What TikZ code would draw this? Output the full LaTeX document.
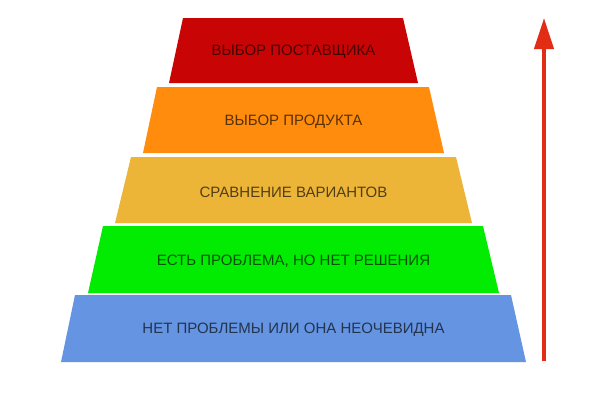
\documentclass[tikz,border=0pt]{standalone}
\usepackage{fontspec}
\setmainfont{Liberation Sans}
\usetikzlibrary{arrows.meta}
\definecolor{layerred}{RGB}{200,4,4}
\definecolor{layerorange}{RGB}{255,140,12}
\definecolor{layeryellow}{RGB}{236,181,56}
\definecolor{layergreen}{RGB}{2,236,2}
\definecolor{layerblue}{RGB}{100,148,226}
\definecolor{arrowred}{RGB}{226,44,20}
\begin{document}
\begin{tikzpicture}[x=1pt,y=-1pt,
    layer/.style={fill=#1,draw=none},
    caption/.style={font=\fontsize{15}{18}\selectfont,text=#1!35!black,inner sep=0pt}]
      \useasboundingbox[fill=white] (0,0) rectangle (615,416);

      % top layer
      \coordinate (r1) at (183,18);
      \coordinate (r2) at (403,18);
      \coordinate (r3) at (418,83);
      \coordinate (r4) at (169,83);
      \fill[layer=layerred] (r1) -- (r2) -- (r3) -- (r4) -- cycle;
      \node[caption=layerred] (supplier) at (293.5,52) {ВЫБОР ПОСТАВЩИКА};

      \coordinate (o1) at (157,87);
      \coordinate (o2) at (429,87);
      \coordinate (o3) at (444,153);
      \coordinate (o4) at (143,153);
      \fill[layer=layerorange] (o1) -- (o2) -- (o3) -- (o4) -- cycle;
      \node[caption=layerorange] (product) at (293.5,122) {ВЫБОР ПРОДУКТА};

      \coordinate (y1) at (131,157);
      \coordinate (y2) at (456,157);
      \coordinate (y3) at (472,223);
      \coordinate (y4) at (115,223);
      \fill[layer=layeryellow] (y1) -- (y2) -- (y3) -- (y4) -- cycle;
      \node[caption=layeryellow] (compare) at (293.5,192) {СРАВНЕНИЕ ВАРИАНТОВ};

      \coordinate (g1) at (103,226);
      \coordinate (g2) at (483,226);
      \coordinate (g3) at (499,293);
      \coordinate (g4) at (88,293);
      \fill[layer=layergreen] (g1) -- (g2) -- (g3) -- (g4) -- cycle;
      \node[caption=layergreen] (problem) at (293.5,261) {ЕСТЬ ПРОБЛЕМА, НО НЕТ РЕШЕНИЯ};

      % bottom layer
      \coordinate (b1) at (75,295);
      \coordinate (b2) at (511,295);
      \coordinate (b3) at (526,362);
      \coordinate (b4) at (61,362);
      \fill[layer=layerblue] (b1) -- (b2) -- (b3) -- (b4) -- cycle;
      \node[caption=layerblue] (noproblem) at (293.5,330) {НЕТ ПРОБЛЕМЫ ИЛИ ОНА НЕОЧЕВИДНА};

      % arrow on the right
      \coordinate (a0) at (544,361);
      \coordinate (a1) at (544,18);
      \draw[arrowred,line width=4pt,-{Triangle[length=31pt,width=19pt]}] (a0) -- (a1);
    \end{tikzpicture}
\end{document}
